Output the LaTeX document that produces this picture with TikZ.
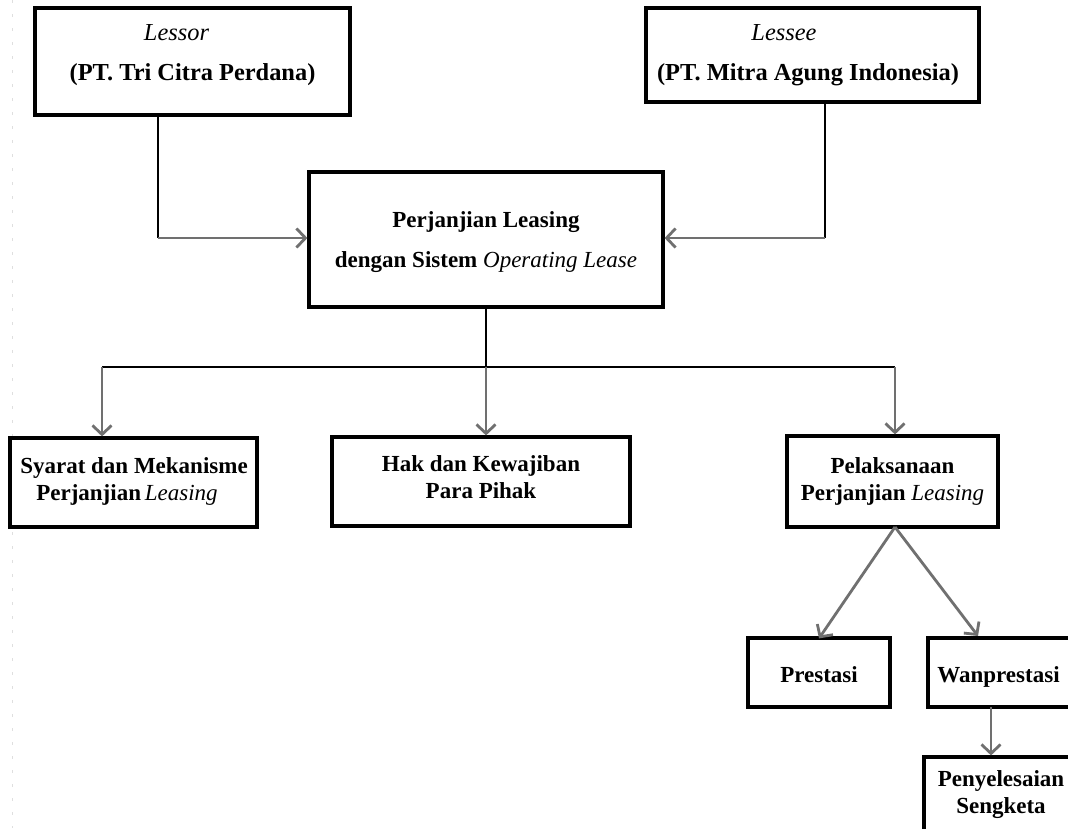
\documentclass[tikz,border=0pt]{standalone}
\usepackage{fontspec}
\setmainfont{Liberation Serif}
\usetikzlibrary{arrows.meta}
\definecolor{arrgray}{HTML}{707070}
\begin{document}
\begin{tikzpicture}[x=1pt,y=-1pt,
  box/.style={draw=black,line width=3.2pt,minimum width=#1,inner sep=0pt},
  big/.style={font=\fontsize{24.4}{40}\selectfont\bfseries,align=center,anchor=base,inner sep=0pt},
  mid/.style={font=\fontsize{23}{40}\selectfont\bfseries,align=center,anchor=base,inner sep=0pt},
  sml/.style={font=\fontsize{23}{27}\selectfont\bfseries,align=center,anchor=base,inner sep=0pt},
  blk/.style={draw=black,line width=2.8pt},
  garr/.style={draw=arrgray,line width=2.8pt,-{Straight Barb[length=9pt,width=19pt,line width=2.8pt]}}]
\useasboundingbox (0,0) rectangle (1068,828);
\fill[white] (0,0) rectangle (1068,828);
\draw[gray!25,line width=1pt,dash pattern=on 3pt off 11pt] (12,0) -- (12,828);
% boxes
\node[box=315pt,minimum height=107pt,fill=white] (lessor) at (192.5,61.5) {};
\node[box=333pt,minimum height=94pt] (lessee) at (812.5,55) {};
\node[box=354pt,minimum height=135pt] (central) at (486,239.5) {};
\node[box=247pt,minimum height=89pt,fill=white] (syarat) at (133.5,482.5) {};
\node[box=298pt,minimum height=89pt] (hak) at (481,481.5) {};
\node[box=211pt,minimum height=91pt] (pelak) at (892.5,481.5) {};
\node[box=142pt,minimum height=69pt] (prestasi) at (819,672.5) {};
\node[box=150pt,minimum height=69pt] (wanp) at (1003,672.5) {};
\node[box=160pt,minimum height=86pt] (penyel) at (1004,800) {};
% texts
\node[big] (lessorT) at (192.5,80) {\mdseries\itshape Lessor\hspace*{32pt}\\(PT. Tri Citra Perdana)};
\node[big] (lesseeT) at (808,80) {\mdseries\itshape Lessee\hspace*{48pt}\\(PT. Mitra Agung Indonesia)};
\node[mid] (centralT) at (486,267) {Perjanjian Leasing\\dengan Sistem \mdseries\itshape Operating Lease};
\node[sml] (syaratT) at (134,500) {Syarat dan Mekanisme\\Perjanjian\,{\mdseries\itshape Leasing}\hspace*{14pt}};
\node[sml] (hakT) at (481,498) {Hak dan Kewajiban\\Para Pihak};
\node[sml] (pelakT) at (892.5,500) {Pelaksanaan\\Perjanjian {\mdseries\itshape Leasing}};
\node[sml] (prestasiT) at (819,682) {Prestasi};
\node[sml] (wanpT) at (998.5,682) {Wanprestasi};
\node[sml] (penyelT) at (1001,813) {Penyelesaian\\Sengketa};
% connectors
\coordinate (c1) at (158,238);
\coordinate (c2) at (825,238);
\draw[blk] (lessor.south -| c1) -- (c1);
\draw[garr] (c1) -- (c1 -| central.west);
\draw[blk] (lessee.south -| c2) -- (c2);
\draw[garr] (c2) -- (c2 -| central.east);
\coordinate (hub) at (486,367);
\coordinate (hl) at (102,367);
\coordinate (hr) at (895,367);
\draw[blk] (central.south) -- (hub);
\draw[blk] (hl) -- (hr);
\draw[garr] (hl) -- (hl |- syarat.north);
\draw[garr] (hub) -- (hub |- hak.north);
\draw[garr] (hr) -- (hr |- pelak.north);
\coordinate (pb) at (895,527);
\coordinate (wt) at (978,636);
\draw[garr] (pb) -- ([yshift=-2pt]prestasi.north);
\draw[garr] (pb) -- (wt);
\coordinate (ws) at (991,707);
\draw[garr] (ws) -- (ws |- penyel.north);
\end{tikzpicture}
\end{document}
